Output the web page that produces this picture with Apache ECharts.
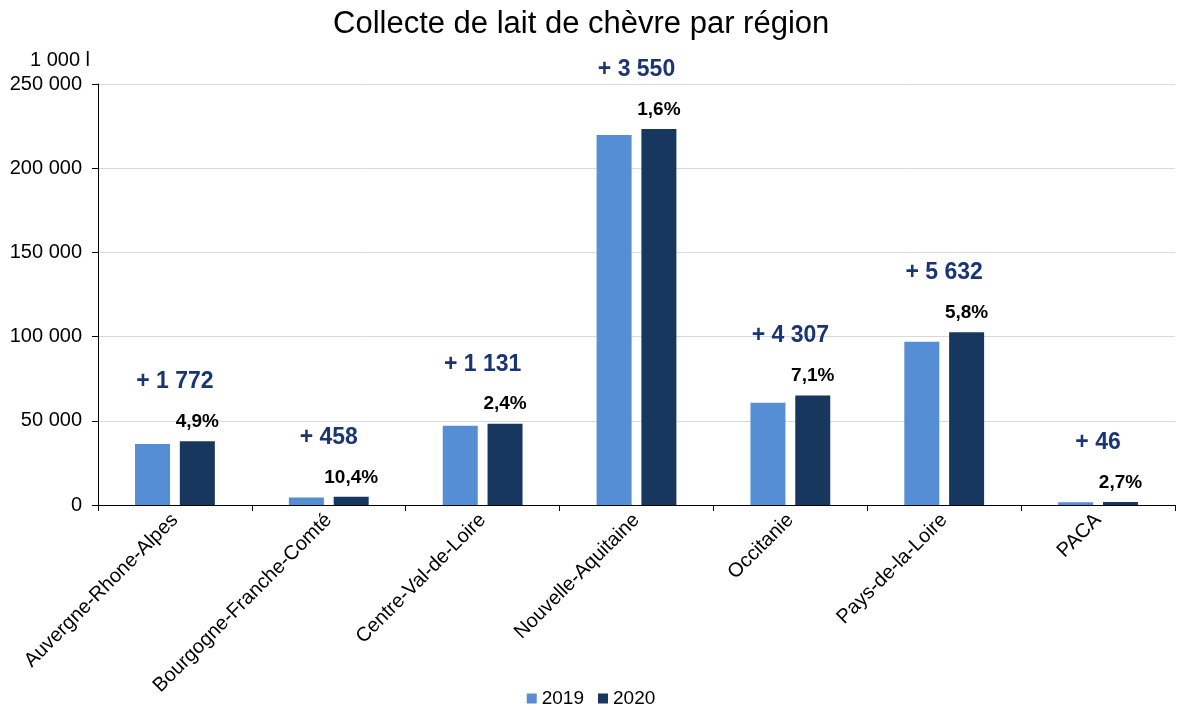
<!DOCTYPE html>
<html>
<head>
<meta charset="utf-8">
<script src="https://cdn.jsdelivr.net/npm/echarts@6/dist/echarts.min.js"></script>
<style>
  html, body { margin: 0; padding: 0; background: #fff; }
  #chart { width: 1182px; height: 710px; }
</style>
</head>
<body>
<div id="chart"></div>
<script>
var regions = ['Auvergne-Rhone-Alpes', 'Bourgogne-Franche-Comté', 'Centre-Val-de-Loire',
  'Nouvelle-Aquitaine', 'Occitanie', 'Pays-de-la-Loire', 'PACA'];
var collecte2019 = [36160, 4400, 47120, 219700, 60700, 96900, 1700];
var collecte2020 = [37930, 4860, 48250, 223250, 65010, 102530, 1750];
var ecarts = ['+ 1 772', '+ 458', '+ 1 131', '+ 3 550', '+ 4 307', '+ 5 632', '+ 46'];
var evolutions = ['4,9%', '10,4%', '2,4%', '1,6%', '7,1%', '5,8%', '2,7%'];

function fmt(v) {
  return String(v).replace(/\B(?=(\d{3})+(?!\d))/g, ' ');
}

var chart = echarts.init(document.getElementById('chart'));
chart.setOption({
  animation: false,
  textStyle: { fontFamily: 'Liberation Sans, Arial, sans-serif' },
  title: {
    text: 'Collecte de lait de chèvre par région',
    left: 328,
    top: 4,
    textStyle: { fontSize: 31, fontWeight: 'normal', color: '#000' }
  },
  legend: {
    top: 689,
    left: 'center',
    padding: 0,
    itemWidth: 10,
    itemHeight: 10,
    itemGap: 14,
    icon: 'rect',
    textStyle: { fontSize: 19, color: '#000' },
    data: ['2019', '2020']
  },
  grid: { left: 98, right: 7, top: 84, bottom: 205 },
  xAxis: {
    type: 'category',
    data: regions,
    axisLine: { lineStyle: { color: '#000', width: 1 } },
    axisTick: { show: true, alignWithLabel: false, length: 6, lineStyle: { color: '#000' } },
    axisLabel: { rotate: 45, fontSize: 20, color: '#000', interval: 0, margin: 12 }
  },
  yAxis: {
    type: 'value',
    min: 0,
    max: 250000,
    interval: 50000,
    name: '1 000 l',
    nameLocation: 'end',
    nameGap: 14,
    nameTextStyle: { fontSize: 20, color: '#000', align: 'right', padding: [0, 8, 0, 0] },
    axisLine: { show: true, lineStyle: { color: '#000' } },
    axisTick: { show: true, length: 6, lineStyle: { color: '#000' } },
    axisLabel: { fontSize: 20, color: '#000', margin: 16, formatter: fmt },
    splitLine: { lineStyle: { color: '#d9d9d9' } }
  },
  series: [
    {
      name: '2019',
      type: 'bar',
      data: collecte2019,
      barWidth: 35,
      barGap: '28%',
      itemStyle: { color: '#558ed5' }
    },
    {
      name: '2020',
      type: 'bar',
      data: collecte2020,
      barWidth: 35,
      itemStyle: { color: '#17375e' },
      label: {
        show: true,
        position: 'top',
        distance: 10,
        fontSize: 19,
        fontWeight: 'bold',
        color: '#000',
        formatter: function (p) { return evolutions[p.dataIndex]; }
      }
    },
    {
      name: 'ecart',
      type: 'scatter',
      data: collecte2020,
      symbolSize: 0,
      silent: true,
      itemStyle: { opacity: 1 },
      label: {
        show: true,
        position: 'top',
        distance: 48,
        fontSize: 23,
        fontWeight: 'bold',
        color: '#1a3573',
        formatter: function (p) { return ecarts[p.dataIndex]; }
      }
    }
  ]
});
</script>
</body>
</html>
